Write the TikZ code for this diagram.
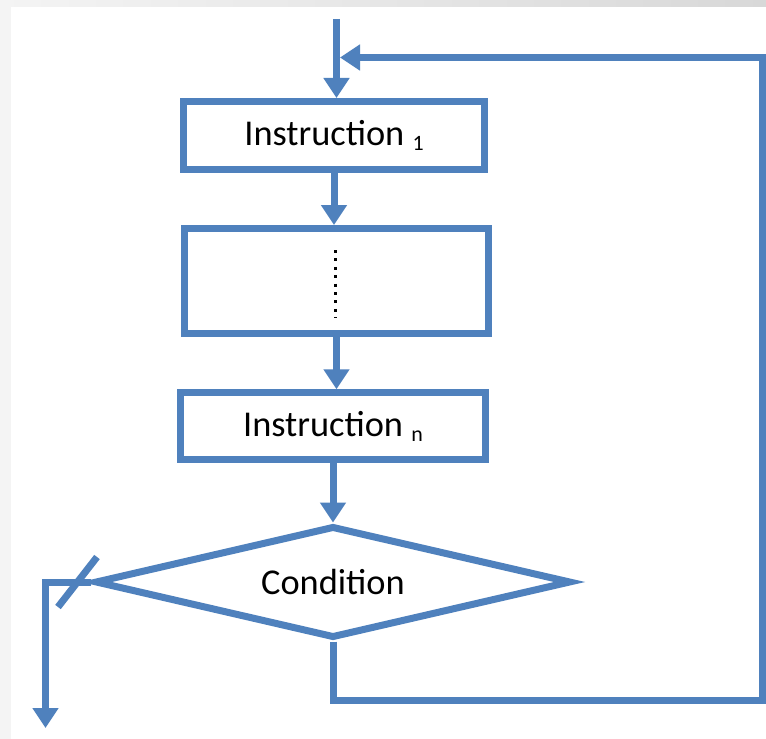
\documentclass[tikz,border=0pt]{standalone}
\usepackage{fontspec}
\setmainfont{Carlito}
\usetikzlibrary{arrows.meta,positioning,calc,shapes.geometric}
\definecolor{flowblue}{HTML}{4F81BD}
\definecolor{paneltop}{HTML}{F4F4F4}
\definecolor{panelside}{HTML}{D8D8D8}
\newcommand\subidx[1]{\raisebox{-5bp}{\fontsize{22}{24}\selectfont #1}}

\begin{document}
\begin{tikzpicture}[x=1bp,y=-1bp,
  box/.style={draw=flowblue,line width=7bp,rectangle,inner sep=0pt,font=\fontsize{36.5}{40}\selectfont},
  link/.style={draw=flowblue,line width=7bp},
  flow/.style={link,-{Triangle[width=25bp,length=20bp]}},
  dotline/.style={black,line width=3bp,dash pattern=on 3bp off 5.4bp}]
  \useasboundingbox (0,0) rectangle (766,739);
  \shade[left color=paneltop,right color=panelside] (0,0) rectangle (766,739);
  \fill[white] (11,7) rectangle (766,739);

  \node[box,minimum width=301bp,minimum height=68bp] (instr1) at (334,135.5) {Instruction \subidx{1}};
  \node[box,minimum width=304bp,minimum height=105bp] (dots) at (336.5,281) {};
  \node[box,minimum width=304.5bp,minimum height=66.5bp] (instrn) at (333,426) {Instruction \subidx{n}};
  \node[box,diamond,aspect=4.25,minimum width=476bp,minimum height=112bp] (cond) at (333,582) {Condition};

  \coordinate (entry) at (336.5,19);
  \coordinate (join) at (340,57.5);
  \coordinate (loopcorner) at (762,700);
  \coordinate (exit) at (45.5,728);
  \coordinate (cut) at (77.5,582);

  \draw[dotline] ($(dots.center)+(-1.5,-31)$) -- ($(dots.center)+(-1.5,37)$);

  \draw[flow] (entry) -- (entry |- instr1.north);
  \draw[flow] (instr1.south) -- (instr1.south |- dots.north);
  \draw[flow] (dots.south) -- (dots.south |- instrn.north);
  \draw[flow] (instrn.south) -- (instrn.south |- cond.north);
  \draw[flow] (cond.south) |- (loopcorner) |- (join);
  \draw[flow] (cond.west) -| (exit);
  \draw[link] ($(cut)+(-19.5,25)$) -- ($(cut)+(19.5,-25)$);
\end{tikzpicture}
\end{document}
